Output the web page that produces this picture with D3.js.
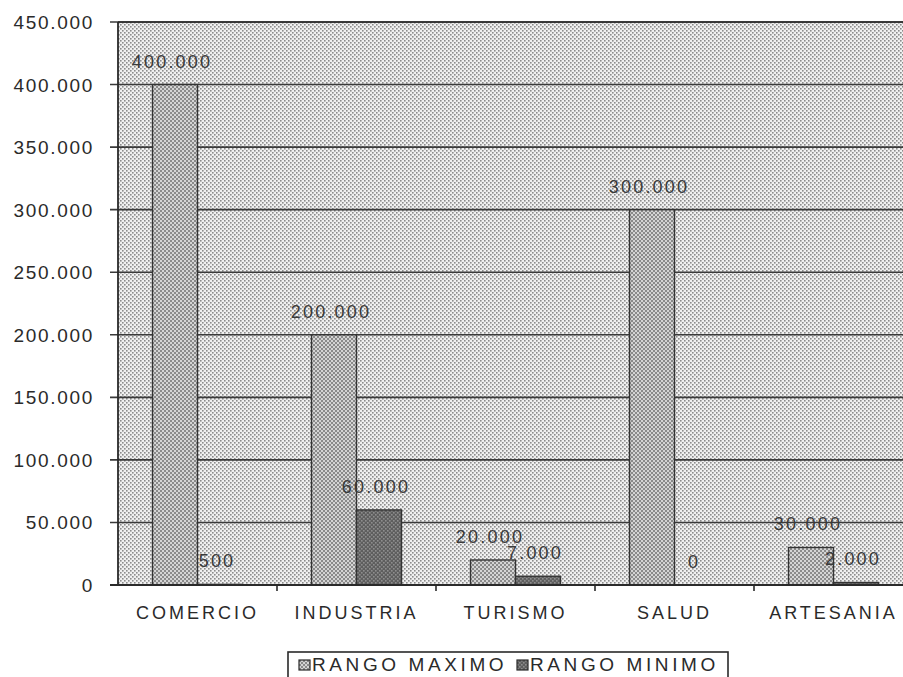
<!DOCTYPE html>
<html>
<head>
<meta charset="utf-8">
<script src="https://cdn.jsdelivr.net/npm/d3@7"></script>
<style>
  body { margin: 0; background: #fff; }
  svg { display: block; }
  text { font-family: "Liberation Sans", Arial, sans-serif; }
</style>
</head>
<body>
<svg id="chart" width="903" height="677"></svg>
<script>
// data
var categories = ['COMERCIO', 'INDUSTRIA', 'TURISMO', 'SALUD', 'ARTESANIA'];
var series = ['RANGO MAXIMO', 'RANGO MINIMO'];
var rangoMaximo = [400000, 200000, 20000, 300000, 30000];
var rangoMinimo = [500, 60000, 7000, 0, 2000];
var yTicks = [0, 50000, 100000, 150000, 200000, 250000, 300000, 350000, 400000, 450000];

var svg = d3.select('#chart')
  , plotL = 118, plotR = 913, plotT = 22, plotB = 585
  , ink = '#2a2a2a';

var es = d3.formatLocale({ decimal: ',', thousands: '.', grouping: [3], currency: ['', ''] })
  , fmt = es.format(',');

var x = d3.scaleBand().domain(categories).range([plotL, plotR])
  , x1 = d3.scaleBand().domain(series)
      .range([x.bandwidth() * 0.217, x.bandwidth() * 0.783])
  , y = d3.scaleLinear().domain([0, 450000]).range([plotB, plotT]);

// fill patterns that mimic the halftone scan
var defs = svg.append('defs');

function dots(id, bg, fg, r) {
  var p = defs.append('pattern')
    .attr('id', id)
    .attr('patternUnits', 'userSpaceOnUse')
    .attr('width', 4).attr('height', 4);
  p.append('rect').attr('width', 4).attr('height', 4).attr('fill', bg);
  p.append('rect').attr('x', 0).attr('y', 0).attr('width', r).attr('height', r).attr('fill', fg);
  p.append('rect').attr('x', 2).attr('y', 2).attr('width', r).attr('height', r).attr('fill', fg);
}
dots('bgPat', '#f0f0f0', '#8c8c8c', 1.6);
dots('maxPat', '#d4d4d4', '#8a8a8a', 2);
dots('minPat', '#5e5e5e', '#8e8e8e', 1.6);
var fills = { 'RANGO MAXIMO': 'url(#maxPat)', 'RANGO MINIMO': 'url(#minPat)' };

// plot background
svg.append('rect')
  .attr('x', plotL).attr('y', plotT)
  .attr('width', plotR - plotL).attr('height', plotB - plotT)
  .attr('fill', 'url(#bgPat)');

// gridlines
svg.selectAll('line.grid')
  .data(yTicks.filter(function(d) { return d > 0; }))
  .enter().append('line')
    .attr('class', 'grid')
    .attr('x1', plotL - 8).attr('x2', plotR)
    .attr('y1', y).attr('y2', y)
    .style('stroke', '#3a3a3a')
    .style('stroke-width', 1.6);

// bars
var rows = categories.map(function(c, i) {
  return { cat: c, values: [
    { s: series[0], v: rangoMaximo[i] },
    { s: series[1], v: rangoMinimo[i] }
  ] };
});

var groups = svg.selectAll('g.cat')
  .data(rows)
  .enter().append('g')
    .attr('class', 'cat')
    .attr('transform', function(d) { return 'translate(' + x(d.cat) + ',0)'; });

groups.selectAll('rect')
  .data(function(d) { return d.values; })
  .enter().append('rect')
    .attr('x', function(d) { return x1(d.s); })
    .attr('width', x1.bandwidth())
    .attr('y', function(d) { return y(d.v); })
    .attr('height', function(d) { return plotB - y(d.v); })
    .attr('fill', function(d) { return fills[d.s]; })
    .style('stroke', '#333')
    .style('stroke-width', function(d) { return d.v > 0 ? 1.4 : 0; });

groups.selectAll('text.val')
  .data(function(d) { return d.values; })
  .enter().append('text')
    .attr('class', 'val')
    .attr('x', function(d) { return x1(d.s) + x1.bandwidth() / 2 - 3; })
    .attr('y', function(d) { return y(d.v) - 17; })
    .attr('text-anchor', 'middle')
    .style('font-size', '18px')
    .style('letter-spacing', '2.2px')
    .style('fill', '#3a3a3a')
    .text(function(d) { return fmt(d.v); });

// y axis
svg.append('line')
  .attr('x1', plotL).attr('x2', plotL)
  .attr('y1', plotT).attr('y2', plotB)
  .style('stroke', ink).style('stroke-width', 1.8);

svg.append('line')
  .attr('x1', plotL).attr('x2', plotR)
  .attr('y1', plotT).attr('y2', plotT)
  .style('stroke', ink).style('stroke-width', 1.6);

svg.selectAll('text.ytick')
  .data(yTicks)
  .enter().append('text')
    .attr('class', 'ytick')
    .attr('x', 94)
    .attr('y', function(d) { return y(d) + 7; })
    .attr('text-anchor', 'end')
    .style('font-size', '19px')
    .style('letter-spacing', '1.7px')
    .style('fill', ink)
    .text(fmt);

// x axis
svg.append('line')
  .attr('x1', plotL - 8).attr('x2', plotR)
  .attr('y1', plotB).attr('y2', plotB)
  .style('stroke', ink).style('stroke-width', 1.8);

svg.selectAll('line.xtick')
  .data(categories.slice(1))
  .enter().append('line')
    .attr('class', 'xtick')
    .attr('x1', function(d) { return x(d); })
    .attr('x2', function(d) { return x(d); })
    .attr('y1', plotB).attr('y2', plotB + 6)
    .style('stroke', ink).style('stroke-width', 1.6);

svg.selectAll('text.xlab')
  .data(categories)
  .enter().append('text')
    .attr('class', 'xlab')
    .attr('x', function(d) { return x(d) + x.bandwidth() / 2; })
    .attr('y', 619)
    .attr('text-anchor', 'middle')
    .style('font-size', '18px')
    .style('letter-spacing', '3px')
    .style('fill', ink)
    .text(function(d) { return d; });

// legend
var legend = svg.append('g').attr('transform', 'translate(288,652)');
legend.append('rect')
  .attr('width', 440).attr('height', 40)
  .attr('fill', '#fff')
  .style('stroke', ink).style('stroke-width', 1.6);

var items = legend.selectAll('g.item')
  .data(series)
  .enter().append('g')
    .attr('class', 'item')
    .attr('transform', function(d, i) { return 'translate(' + (11 + i * 218) + ',0)'; });

items.append('rect')
  .attr('y', 8).attr('width', 11).attr('height', 10)
  .attr('fill', function(d) { return fills[d]; })
  .style('stroke', ink).style('stroke-width', 1.2);

items.append('text')
  .attr('x', 13).attr('y', 19)
  .style('font-size', '19px')
  .style('letter-spacing', '3.6px')
  .style('fill', ink)
  .text(function(d) { return d; });
</script>
</body>
</html>
